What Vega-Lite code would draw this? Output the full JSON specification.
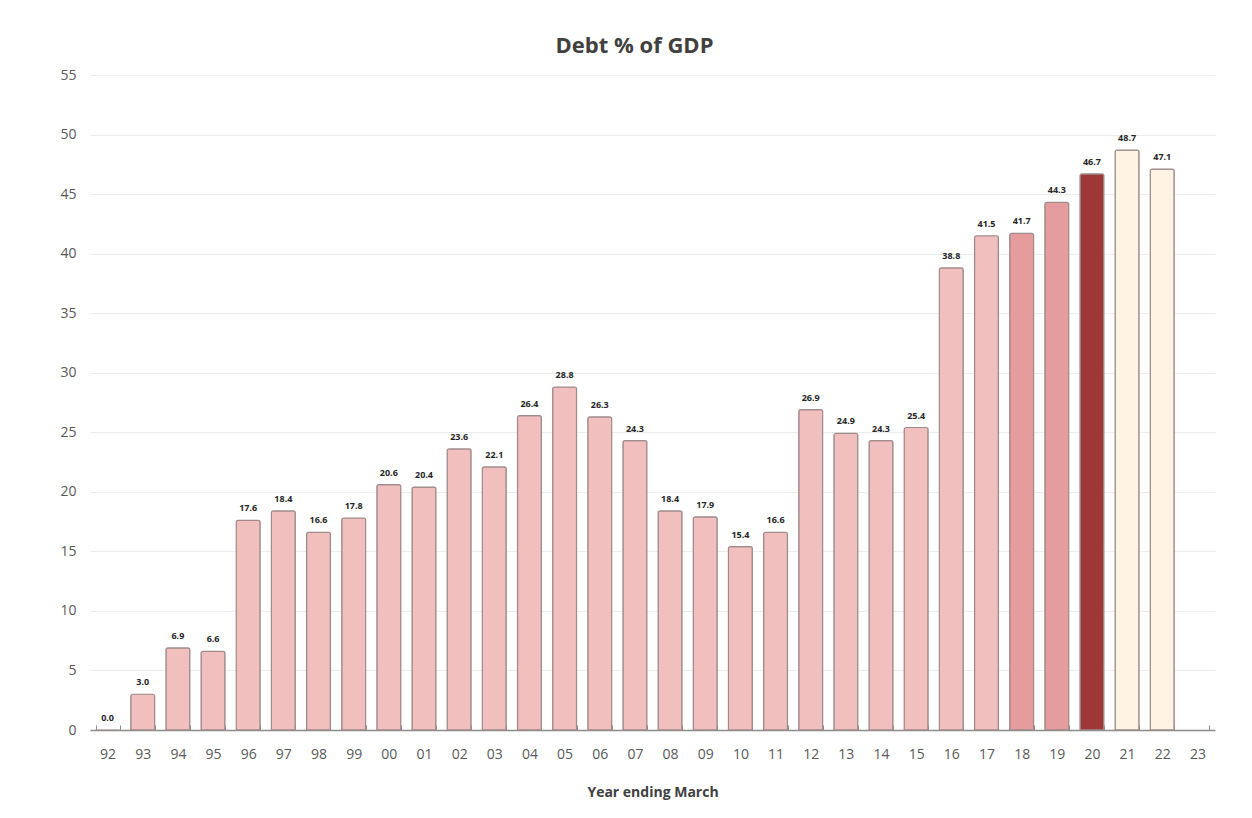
{
  "$schema": "https://vega.github.io/schema/vega-lite/v6.json",
  "autosize": {"type": "none"},
  "width": 1125,
  "height": 655,
  "padding": {"left": 90, "top": 75, "right": 37, "bottom": 88},
  "background": "white",
  "config": {"view": {"stroke": null}},
  "title": {"text": "Debt % of GDP", "fontSize": 22, "fontWeight": "bold", "color": "#404040", "font": "Open Sans", "offset": 10, "dx": -18},
  "data": {"values": [
    {"year": "92", "debt": 0.0, "group": "base"},
    {"year": "93", "debt": 3.0, "group": "base"},
    {"year": "94", "debt": 6.9, "group": "base"},
    {"year": "95", "debt": 6.6, "group": "base"},
    {"year": "96", "debt": 17.6, "group": "base"},
    {"year": "97", "debt": 18.4, "group": "base"},
    {"year": "98", "debt": 16.6, "group": "base"},
    {"year": "99", "debt": 17.8, "group": "base"},
    {"year": "00", "debt": 20.6, "group": "base"},
    {"year": "01", "debt": 20.4, "group": "base"},
    {"year": "02", "debt": 23.6, "group": "base"},
    {"year": "03", "debt": 22.1, "group": "base"},
    {"year": "04", "debt": 26.4, "group": "base"},
    {"year": "05", "debt": 28.8, "group": "base"},
    {"year": "06", "debt": 26.3, "group": "base"},
    {"year": "07", "debt": 24.3, "group": "base"},
    {"year": "08", "debt": 18.4, "group": "base"},
    {"year": "09", "debt": 17.9, "group": "base"},
    {"year": "10", "debt": 15.4, "group": "base"},
    {"year": "11", "debt": 16.6, "group": "base"},
    {"year": "12", "debt": 26.9, "group": "base"},
    {"year": "13", "debt": 24.9, "group": "base"},
    {"year": "14", "debt": 24.3, "group": "base"},
    {"year": "15", "debt": 25.4, "group": "base"},
    {"year": "16", "debt": 38.8, "group": "base"},
    {"year": "17", "debt": 41.5, "group": "base"},
    {"year": "18", "debt": 41.7, "group": "mid"},
    {"year": "19", "debt": 44.3, "group": "mid"},
    {"year": "20", "debt": 46.7, "group": "current"},
    {"year": "21", "debt": 48.7, "group": "forecast"},
    {"year": "22", "debt": 47.1, "group": "forecast"}
  ]},
  "encoding": {
    "x": {
      "field": "year", "type": "ordinal",
      "scale": {"domain": ["92","93","94","95","96","97","98","99","00","01","02","03","04","05","06","07","08","09","10","11","12","13","14","15","16","17","18","19","20","21","22","23"], "paddingInner": 0.32, "paddingOuter": 0.16},
      "axis": {"title": "Year ending March", "titleFontSize": 14, "titleFontWeight": "bold", "titleColor": "#404040", "titleFont": "Open Sans", "titlePadding": 24,
               "labelAngle": 0, "labelFontSize": 14, "labelColor": "#595959", "labelFont": "Open Sans", "labelPadding": 22,
               "domainColor": "#8c8c8c", "domainWidth": 1.5, "tickColor": "#8c8c8c", "tickBand": "extent", "tickSize": -5, "ticks": true}
    },
    "y": {
      "field": "debt", "type": "quantitative",
      "scale": {"domain": [0, 55], "nice": false},
      "axis": {"title": null, "values": [0,5,10,15,20,25,30,35,40,45,50,55], "labelFontSize": 14, "labelColor": "#595959", "labelFont": "Open Sans", "labelPadding": 14,
               "domain": false, "ticks": false, "gridColor": "#ececec", "gridWidth": 1}
    }
  },
  "layer": [
    {
      "mark": {"type": "bar", "stroke": "#a08a8a", "strokeWidth": 1.2, "cornerRadiusTopLeft": 2, "cornerRadiusTopRight": 2},
      "encoding": {
        "color": {"field": "group", "type": "nominal", "legend": null,
                  "scale": {"domain": ["base", "mid", "current", "forecast"], "range": ["#f2bfbf", "#e49c9c", "#9e3737", "#fff3e4"]}}
      }
    },
    {
      "mark": {"type": "text", "dy": -12, "fontSize": 9, "fontWeight": "bold", "color": "#262626", "font": "Open Sans"},
      "encoding": {"text": {"field": "debt", "type": "quantitative", "format": ".1f"}}
    }
  ]
}
